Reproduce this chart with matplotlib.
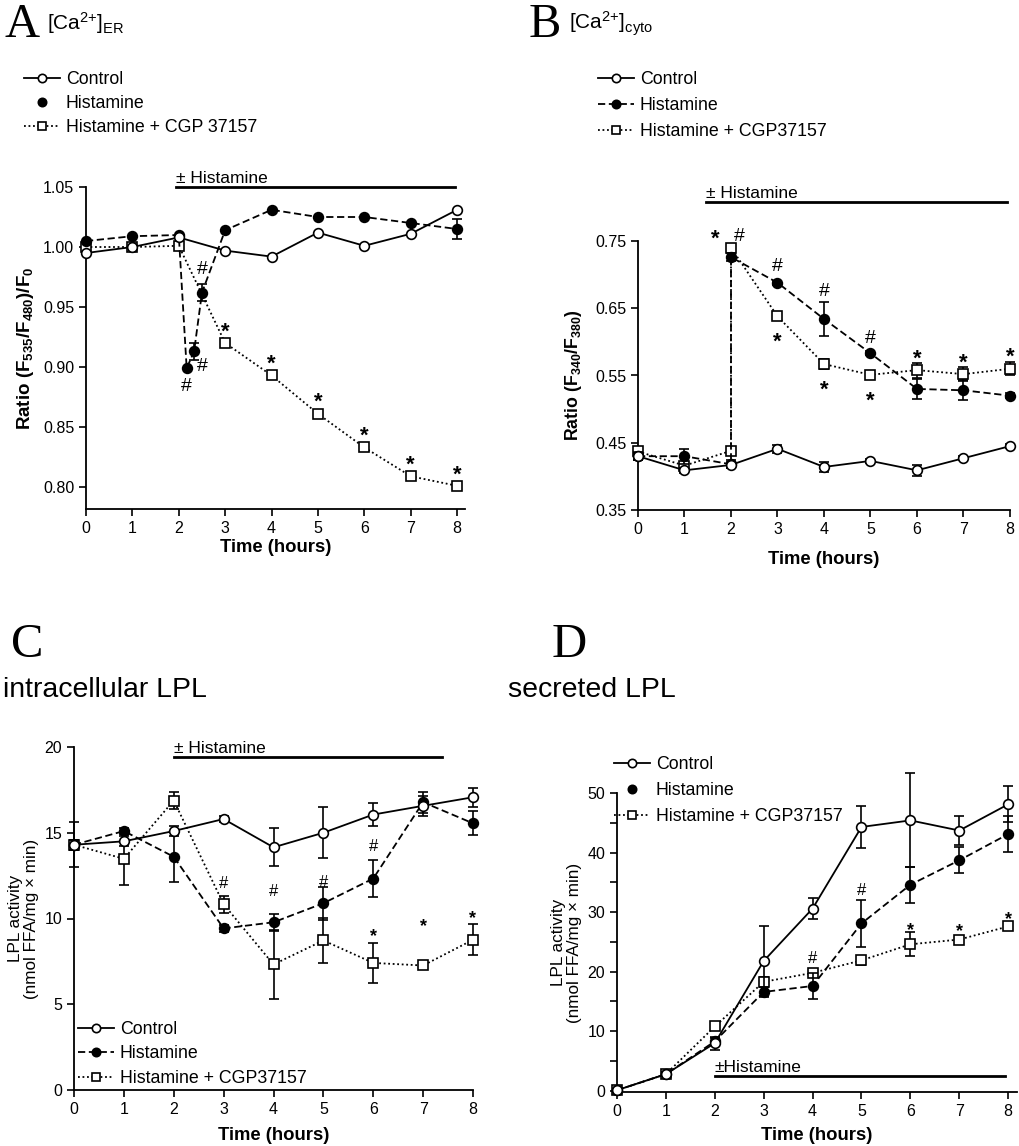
import numpy as np
import matplotlib
matplotlib.use("Agg")
import matplotlib.pyplot as plt
from matplotlib.lines import Line2D
from matplotlib.ticker import MultipleLocator, FormatStrFormatter

plt.rcParams['font.family'] = ['Liberation Sans', 'DejaVu Sans']
plt.rcParams['mathtext.fontset'] = 'custom'
plt.rcParams['mathtext.rm'] = 'Liberation Sans'
plt.rcParams['mathtext.bf'] = 'Liberation Sans:bold'
plt.rcParams['mathtext.it'] = 'Liberation Sans:italic'

# ---- data ----
hours = [0, 1, 2, 3, 4, 5, 6, 7, 8]

# A: [Ca2+]ER, FRET ratio
a_ctrl = [0.995, 1.000, 1.008, 0.997, 0.992, 1.012, 1.001, 1.011, 1.031]
a_hist_t = [0, 1, 2, 2.17, 2.33, 2.5, 3, 4, 5, 6, 7, 8]
a_hist = [1.005, 1.009, 1.010, 0.899, 0.913, 0.962, 1.014, 1.031, 1.025, 1.025, 1.020, 1.015]
a_hist_err = [0, 0, 0, 0, 0.007, 0.007, 0, 0, 0, 0, 0, 0.008]
a_cgp = [1.000, 1.000, 1.001, 0.920, 0.893, 0.861, 0.833, 0.809, 0.801]

# B: [Ca2+]cyto, fura-2 ratio (two readings at 2 h: before / after histamine)
b_ctrl = [0.430, 0.409, 0.417, 0.441, 0.414, 0.423, 0.409, 0.427, 0.445]
b_ctrl_err = [0.005, 0.004, 0.004, 0.006, 0.008, 0.003, 0.008, 0.003, 0.003]
b_t = [0, 1, 2, 2, 3, 4, 5, 6, 7, 8]
b_hist = [0.430, 0.430, 0.418, 0.726, 0.688, 0.634, 0.583, 0.530, 0.528, 0.520]
b_hist_err = [0.006, 0.011, 0.006, 0.006, 0.003, 0.025, 0.003, 0.015, 0.015, 0.004]
b_cgp = [0.437, 0.416, 0.438, 0.740, 0.638, 0.567, 0.551, 0.558, 0.552, 0.560]
b_cgp_err = [0.004, 0.005, 0.005, 0.003, 0.003, 0.008, 0.003, 0.011, 0.010, 0.010]

# C: intracellular LPL activity
c_ctrl = [14.3, 14.5, 15.1, 15.8, 14.15, 15.0, 16.06, 16.57, 17.07]
c_ctrl_err = [0.3, 0.3, 0.3, 0.2, 1.1, 1.5, 0.66, 0.6, 0.55]
c_hist = [14.3, 15.1, 13.6, 9.42, 9.78, 10.89, 12.33, 16.78, 15.55]
c_hist_err = [1.3, 0.2, 1.5, 0.2, 0.5, 0.95, 1.1, 0.6, 0.7]
c_cgp = [14.3, 13.48, 16.88, 10.83, 7.32, 8.72, 7.41, 7.26, 8.76]
c_cgp_err = [0.3, 1.5, 0.5, 0.5, 2.0, 1.3, 1.15, 0.2, 0.9]

# D: secreted LPL activity
d_ctrl = [0.1, 2.8, 8.0, 21.8, 30.6, 44.3, 45.4, 43.7, 48.1]
d_ctrl_err = [0.2, 0.3, 1.1, 5.9, 1.8, 3.6, 7.9, 2.5, 3.0]
d_hist = [0.1, 2.8, 8.3, 16.6, 17.6, 28.1, 34.6, 38.7, 43.1]
d_hist_err = [0.2, 0.3, 0.5, 0.8, 2.2, 4.0, 3.0, 2.2, 3.0]
d_cgp = [0.1, 2.8, 10.8, 18.3, 19.8, 21.9, 24.6, 25.4, 27.6]
d_cgp_err = [0.2, 0.3, 0.5, 0.8, 0.5, 0.8, 2.0, 0.5, 0.6]

# histamine period bars: (start, end, level)
a_period = (1.93, 7.95, 1.05)
b_period = (1.46, 7.93, 0.808)
c_period = (2.0, 7.37, 19.4)
d_period = (2.0, 7.94, 2.5)

# significance marks: (series, index, symbol, dx, dy) offsets in points
a_marks = [('h', 3, '#', 0, -13), ('h', 4, '#', 6, -11), ('h', 5, '#', 0, 17)] + \
          [('c', i, '*', 0, 13) for i in range(3, 9)]
b_marks = [('c', 3, '*', -11, 11), ('c', 3, '#', 6, 8),
           ('h', 4, '#', 0, 12), ('h', 5, '#', 0, 20), ('h', 6, '#', 0, 11),
           ('c', 4, '*', 0, -14), ('c', 5, '*', 0, -14), ('c', 6, '*', 0, -14),
           ('c', 7, '*', 0, 13), ('c', 8, '*', 0, 13), ('c', 9, '*', 0, 13)]
c_marks = [('c', 3, '#', 0, 15), ('h', 4, '#', 0, 22), ('h', 5, '#', 0, 15), ('h', 6, '#', 0, 23),
           ('c', 6, '*', 0, 24), ('c', 7, '*', 0, 33), ('c', 8, '*', 0, 20)]
d_marks = [('c', 4, '#', 0, 10), ('h', 5, '#', 0, 24),
           ('c', 6, '*', 0, 15), ('c', 7, '*', 0, 11), ('c', 8, '*', 0, 10)]

CTRL = dict(ls='-', marker='o', mfc='white', mec='black', color='black', lw=1.3, ms=7, mew=1.2)
HIST = dict(ls=(0, (4, 2)), marker='o', mfc='black', mec='black', color='black', lw=1.3, ms=7, mew=1.2)
CGP = dict(ls=(0, (1, 1.5)), marker='s', mfc='white', mec='black', color='black', lw=1.3, ms=7, mew=1.2)


def draw(ax, x, y, err, style, z):
    cont = ax.errorbar(x, y, yerr=err, capsize=3.5, elinewidth=1.2, capthick=1.2,
                       zorder=z, **style)
    for art in cont.get_children():
        art.set_clip_on(False)


def period(ax, p, label):
    ax.plot([p[0], p[1]], [p[2], p[2]], color='black', lw=2, clip_on=False)
    ax.annotate(label, (p[0], p[2]), xytext=(0, 1), textcoords='offset points',
                fontsize=12.5, va='bottom', ha='left', annotation_clip=False)


def marks(ax, lst, xs, ys, size_hash=14, size_star=16):
    for key, i, sym, dx, dy in lst:
        xx, yy = xs[key][i], ys[key][i]
        if sym == '*':
            ax.annotate('*', (xx, yy), xytext=(dx, dy - 5), textcoords='offset points',
                        ha='center', va='center', fontsize=size_star, fontweight='bold',
                        annotation_clip=False)
        else:
            ax.annotate('#', (xx, yy), xytext=(dx, dy), textcoords='offset points',
                        ha='center', va='center', fontsize=size_hash, annotation_clip=False)


def style_axes(ax, pad=2):
    for s in ['top', 'right']:
        ax.spines[s].set_visible(False)
    for s in ['left', 'bottom']:
        ax.spines[s].set_linewidth(1.3)
    ax.tick_params(direction='out', length=5, width=1.2, labelsize=11.5)
    ax.tick_params(which='minor', direction='out', length=5, width=1.2)
    ax.set_xticks(hours)
    ax.set_xlabel('Time (hours)', fontsize=13.3, fontweight='bold', labelpad=pad)


def legend(fig, anchor, cgp_label, hist_line=True, spacing=0.5):
    h = [Line2D([], [], **CTRL),
         Line2D([], [], **HIST) if hist_line else Line2D([], [], **dict(HIST, ls='none')),
         Line2D([], [], **CGP)]
    for l in h:
        l.set_markersize(6)
    fig.legend(h, ['Control', 'Histamine', cgp_label],
               loc='upper left', bbox_to_anchor=anchor, frameon=False, fontsize=12.8,
               handlelength=2.0, handletextpad=0.35, labelspacing=spacing,
               borderaxespad=0, borderpad=0)


W, H = 1020, 1146
fig = plt.figure(figsize=(W / 100, H / 100), dpi=100)


def rect(l, r, t, b):
    return [l / W, 1 - b / H, (r - l) / W, (b - t) / H]


# ---- A ----
axA = fig.add_axes(rect(86, 465, 187, 509))
draw(axA, hours, a_cgp, None, CGP, 3)
draw(axA, a_hist_t, a_hist, a_hist_err, HIST, 4)
draw(axA, hours, a_ctrl, None, CTRL, 5)
axA.set_xlim(0, 8.17)
axA.set_ylim(0.7817, 1.05)
axA.set_yticks(np.arange(0.80, 1.051, 0.05))
axA.yaxis.set_major_formatter(FormatStrFormatter('%.2f'))
style_axes(axA)
axA.set_ylabel(r'Ratio (F$_{\mathbf{535}}$/F$_{\mathbf{480}}$)/F$_{\mathbf{0}}$',
               fontsize=13.5, fontweight='bold', labelpad=5)
period(axA, a_period, '± Histamine')
marks(axA, a_marks, {'h': a_hist_t, 'c': hours}, {'h': a_hist, 'c': a_cgp})
legend(fig, (24 / W, 1 - 71 / H), 'Histamine + CGP 37157', hist_line=False, spacing=0.4)

# ---- B ----
axB = fig.add_axes(rect(638, 1010, 241, 510))
draw(axB, b_t, b_cgp, b_cgp_err, CGP, 3)
draw(axB, b_t, b_hist, b_hist_err, HIST, 4)
draw(axB, hours, b_ctrl, b_ctrl_err, CTRL, 5)
axB.set_xlim(0, 8)
axB.set_ylim(0.35, 0.75)
axB.set_yticks([0.35, 0.45, 0.55, 0.65, 0.75])
axB.yaxis.set_major_formatter(FormatStrFormatter('%.2f'))
style_axes(axB, pad=10)
axB.set_ylabel(r'Ratio (F$_{\mathbf{340}}$/F$_{\mathbf{380}}$)', fontsize=12.8,
               fontweight='bold', labelpad=8)
period(axB, b_period, '± Histamine')
marks(axB, b_marks, {'h': b_t, 'c': b_t}, {'h': b_hist, 'c': b_cgp})
legend(fig, (598 / W, 1 - 71 / H), 'Histamine + CGP37157', spacing=0.5)

# ---- C ----
axC = fig.add_axes(rect(74, 473, 747, 1090))
draw(axC, hours, c_cgp, c_cgp_err, CGP, 3)
draw(axC, hours, c_hist, c_hist_err, HIST, 4)
draw(axC, hours, c_ctrl, c_ctrl_err, CTRL, 5)
axC.set_xlim(0, 8)
axC.set_ylim(0, 20)
axC.set_yticks([0, 5, 10, 15, 20])
style_axes(axC, pad=7)
axC.set_ylabel('LPL activity\n(nmol FFA/mg × min)', fontsize=12.3, labelpad=4, linespacing=1.1)
period(axC, c_period, '± Histamine')
marks(axC, c_marks, {'h': hours, 'c': hours}, {'h': c_hist, 'c': c_cgp}, 12, 13)
legend(fig, (78 / W, 1 - 1021 / H), 'Histamine + CGP37157', spacing=0.42)

# ---- D ----
axD = fig.add_axes(rect(617, 1017, 793, 1092))
draw(axD, hours, d_cgp, d_cgp_err, CGP, 3)
draw(axD, hours, d_hist, d_hist_err, HIST, 4)
draw(axD, hours, d_ctrl, d_ctrl_err, CTRL, 5)
axD.set_xlim(0, 8.18)
axD.set_ylim(-0.2, 50)
axD.set_yticks([0, 10, 20, 30, 40, 50])
axD.yaxis.set_minor_locator(MultipleLocator(5))
style_axes(axD, pad=6)
axD.set_ylabel('LPL activity\n(nmol FFA/mg × min)', fontsize=12.3, labelpad=4, linespacing=1.1)
period(axD, d_period, '±Histamine')
marks(axD, d_marks, {'h': hours, 'c': hours}, {'h': d_hist, 'c': d_cgp}, 12, 13)
legend(fig, (614 / W, 1 - 756 / H), 'Histamine + CGP37157', hist_line=False, spacing=0.5)

# ---- panel titles ----
serif = ['Liberation Serif', 'DejaVu Serif']
fig.text(5 / W, 1 - 37 / H, 'A', family=serif, fontsize=35, va='baseline')
fig.text(47 / W, 1 - 30 / H, r'[Ca$^{2{+}}$]$_{\mathrm{ER}}$', fontsize=15, va='baseline')
fig.text(529 / W, 1 - 37 / H, 'B', family=serif, fontsize=35, va='baseline')
fig.text(569 / W, 1 - 30 / H, r'[Ca$^{2{+}}$]$_{\mathrm{cyto}}$', fontsize=15, va='baseline')
fig.text(11 / W, 1 - 657 / H, 'C', family=serif, fontsize=35, va='baseline')
fig.text(3 / W, 1 - 697 / H, 'intracellular LPL', fontsize=20.5, va='baseline')
fig.text(552 / W, 1 - 657 / H, 'D', family=serif, fontsize=35, va='baseline')
fig.text(508 / W, 1 - 697 / H, 'secreted LPL', fontsize=20.5, va='baseline')

fig.savefig('out.png', dpi=100)
